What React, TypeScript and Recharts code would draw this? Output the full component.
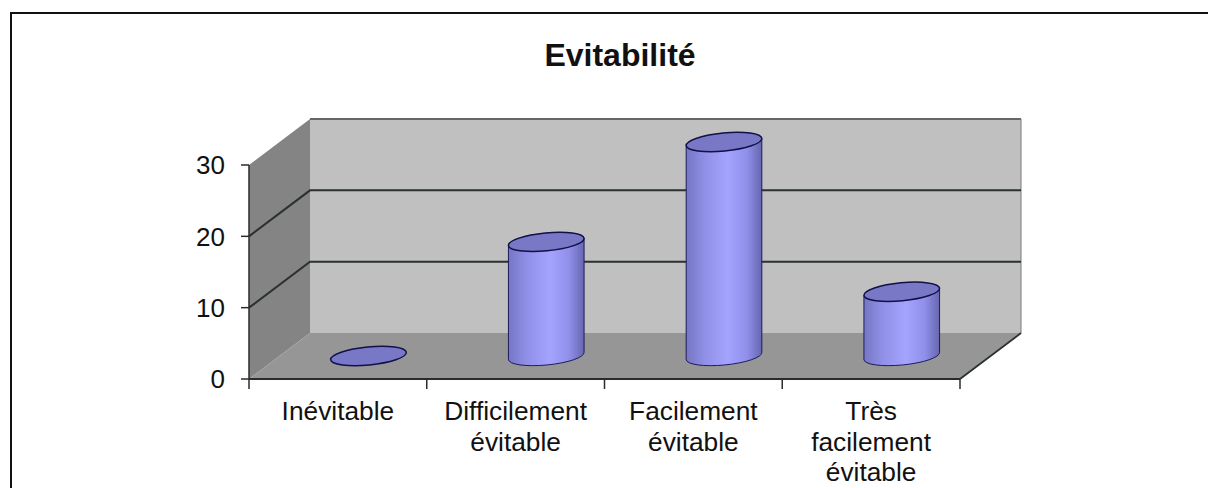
import React from "react";
import { BarChart, Bar, XAxis, YAxis, CartesianGrid } from "recharts";

// Chart content
const titleText = "Evitabilité";
const categories = ["Inévitable", "Difficilement évitable", "Facilement évitable", "Très facilement évitable"];
const categoryLines = [["Inévitable"], ["Difficilement", "évitable"], ["Facilement", "évitable"], ["Très", "facilement", "évitable"]];
const values = [0, 16, 30, 9];
const yTicks = [0, 10, 20, 30];

const rows = categories.map((name, i) => ({ name, value: values[i] }));

// Oblique projection of the chart box
const DEPTH_X = 61;
const DEPTH_Y = -46;
const TILT = -5.5;
const RY = 9;
const FONT = "'Liberation Sans', Arial, sans-serif";
const AXIS_COLOR = "#2b2b2b";
const LINE_COLOR = "#2a3030";

// Side wall, back wall and floor of the box
function Walls({ x, y, width, height }: any) {
  const r = x + width;
  const b = y + height;
  const dx = DEPTH_X;
  const dy = DEPTH_Y;
  return (
    <g>
      <polygon points={`${x + dx},${y + dy} ${r + dx},${y + dy} ${r + dx},${b + dy} ${x + dx},${b + dy}`} fill="#c0c0c0" />
      <polygon points={`${x},${y} ${x + dx},${y + dy} ${x + dx},${b + dy} ${x},${b}`} fill="#848484" />
      <polygon points={`${x},${b} ${x + dx},${b + dy} ${r + dx},${b + dy} ${r},${b}`} fill="#969696" />
      <line x1={x + dx} y1={y + dy} x2={r + dx} y2={y + dy} stroke="#666" strokeWidth={1.8} />
      <line x1={r + dx} y1={y + dy} x2={r + dx} y2={b + dy} stroke="#7a7a7a" strokeWidth={1} />
      <line x1={r} y1={b} x2={r + dx} y2={b + dy} stroke={LINE_COLOR} strokeWidth={1.8} />
    </g>
  );
}

// Gridline folded over the side wall and along the back wall; the first one also lays the box down
function WallGridLine(props: any) {
  const { x1, y1, x2, y2, index, x, y, width, height } = props;
  const isEdge = Math.abs(y1 - y) < 0.5 || Math.abs(y1 - (y + height)) < 0.5;
  const d = `M${x1},${y1} L${x1 + DEPTH_X},${y1 + DEPTH_Y} L${x2 + DEPTH_X},${y2 + DEPTH_Y}`;
  return (
    <g key={`wall-line-${index}`}>
      {index === 0 && <Walls x={x} y={y} width={width} height={height} />}
      {!isEdge && <path d={d} fill="none" stroke={LINE_COLOR} strokeWidth={2} />}
    </g>
  );
}

// Shaded cylinder standing in the middle of the box depth
function Cylinder(props: any) {
  const { x, y, width, height, index } = props;
  const rx = width / 2;
  const cx = x + rx + DEPTH_X / 2;
  const topY = y + DEPTH_Y / 2;
  const baseY = y + height + DEPTH_Y / 2;
  const rad = (TILT * Math.PI) / 180;
  const ex = rx * Math.cos(rad);
  const ey = rx * Math.sin(rad);
  const body =
    `M${cx - ex},${topY - ey} L${cx - ex},${baseY - ey} ` +
    `A${rx},${RY} ${TILT} 0 0 ${cx + ex},${baseY + ey} ` +
    `L${cx + ex},${topY + ey} Z`;
  return (
    <g key={index}>
      {height > 0 && <path d={body} fill="url(#cylinderBody)" stroke="#1c1c5c" strokeWidth={1} />}
      <ellipse
        cx={cx}
        cy={topY}
        rx={rx}
        ry={RY}
        transform={`rotate(${TILT} ${cx} ${topY})`}
        fill="#7878c6"
        stroke="#10104a"
        strokeWidth={1.5}
      />
    </g>
  );
}

// Category label plus the tick marks at the band boundaries
function CategoryTick(props: any) {
  const { x, y, index, payload, width, visibleTicksCount } = props;
  const band = width / visibleTicksCount;
  const coord = payload.coordinate ?? x;
  const left = coord - band / 2;
  const right = coord + band / 2;
  const top = y - 8;
  return (
    <g>
      <line x1={left} x2={left} y1={top} y2={top + 10} stroke={AXIS_COLOR} strokeWidth={1.5} />
      {index === visibleTicksCount - 1 && (
        <line x1={right} x2={right} y1={top} y2={top + 10} stroke={AXIS_COLOR} strokeWidth={1.5} />
      )}
      {categoryLines[index].map((line, i) => (
        <text
          key={line}
          x={coord}
          y={top + 41 + i * 30.5}
          textAnchor="middle"
          fontFamily={FONT}
          fontSize={26.3}
          fill="#111"
        >
          {line}
        </text>
      ))}
    </g>
  );
}

export default function App() {
  return (
    <div style={{ position: "absolute", left: 0, top: 0, width: 1208, height: 488, background: "#fff", overflow: "hidden" }}>
      <div
        style={{
          position: "absolute",
          left: 10,
          top: 12,
          width: 1198,
          height: 476,
          boxSizing: "border-box",
          borderLeft: "2px solid #111",
          borderTop: "2px solid #111",
        }}
      />
      <div style={{ position: "absolute", left: 0, top: 0 }}>
        <BarChart
          width={1208}
          height={488}
          data={rows}
          margin={{ top: 165, right: 248, bottom: 0, left: 0 }}
          barSize={76}
        >
          <defs>
            <linearGradient id="cylinderBody" x1="0" x2="1" y1="0" y2="0">
              <stop offset="0" stopColor="#7676c4" />
              <stop offset="0.25" stopColor="#9090e8" />
              <stop offset="0.55" stopColor="#a4a4ff" />
              <stop offset="0.8" stopColor="#9090ea" />
              <stop offset="1" stopColor="#6666b0" />
            </linearGradient>
          </defs>
          <CartesianGrid vertical={false} horizontal={WallGridLine as any} />
          <XAxis
            dataKey="name"
            interval={0}
            height={109}
            tickLine={false}
            axisLine={{ stroke: AXIS_COLOR, strokeWidth: 1.8 }}
            tick={CategoryTick as any}
          />
          <YAxis
            width={249}
            domain={[0, 30]}
            ticks={yTicks}
            tickSize={8}
            tickMargin={16}
            axisLine={{ stroke: AXIS_COLOR, strokeWidth: 1.5 }}
            tickLine={{ stroke: AXIS_COLOR, strokeWidth: 1.5 }}
            tick={{ fontFamily: FONT, fontSize: 26, fill: "#111" }}
          />
          <Bar dataKey="value" isAnimationActive={false} shape={Cylinder as any} />
          <text x={620} y={65.5} textAnchor="middle" fontFamily={FONT} fontWeight="bold" fontSize={32} fill="#111">
            {titleText}
          </text>
        </BarChart>
      </div>
    </div>
  );
}
